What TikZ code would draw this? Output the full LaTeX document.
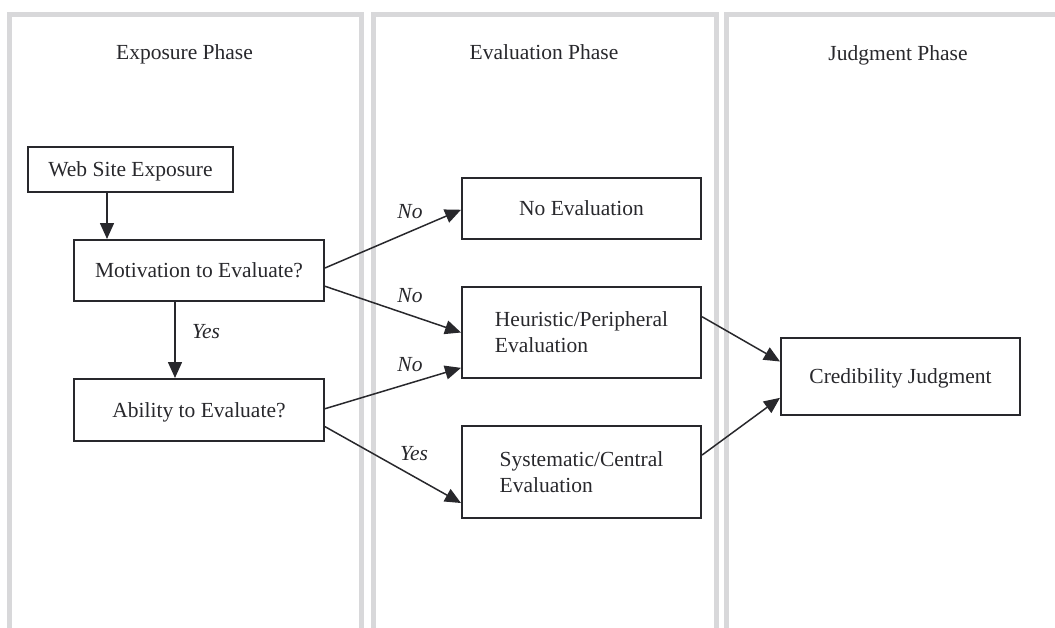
\documentclass[tikz,border=0pt]{standalone}
\usepackage{fontspec}
\setmainfont{Liberation Serif}
\usetikzlibrary{arrows.meta,calc}
\definecolor{panelgray}{RGB}{216,216,218}
\definecolor{ink}{RGB}{40,40,44}
\begin{document}
\begin{tikzpicture}[x=1pt,y=-1pt,
  every node/.style={font=\fontsize{21.5}{26}\selectfont, text=ink},
  panel/.style={draw=panelgray, line width=5pt},
  box/.style={draw=ink, line width=2pt, inner sep=0pt, align=left, text depth=0pt},
  arr/.style={draw=ink, line width=1.5pt, -{Triangle[length=16pt,width=14pt]}},
  lab/.style={font=\fontsize{21.5}{26}\selectfont\itshape, anchor=base}
]
\useasboundingbox (0,0) rectangle (1055,627);
% panels
\draw[panel] (9.5,640) -- (9.5,14) -- (361,14) -- (361,640);
\draw[panel] (373,640) -- (373,14) -- (716,14) -- (716,640);
\draw[panel] (726,640) -- (726,14) -- (1070,14);
% titles
\node[anchor=base] (t1) at (184.5,59) {Exposure Phase};
\node[anchor=base] (t2) at (544,59) {Evaluation Phase};
\node[anchor=base] (t3) at (898,60) {Judgment Phase};
% boxes
\node[box, minimum width=205pt, minimum height=45pt] (web) at (130.5,169.5) {Web Site Exposure};
\node[box, minimum width=250pt, minimum height=61pt] (mot) at (199,270.5) {Motivation to Evaluate?};
\node[box, minimum width=250pt, minimum height=62pt] (abil) at (199,410) {Ability to Evaluate?};
\node[box, minimum width=239pt, minimum height=61pt] (noev) at (581.5,208.5) {No Evaluation};
\node[box, minimum width=239pt, minimum height=91pt] (heur) at (581.5,332.5) {Heuristic/Peripheral\\Evaluation};
\node[box, minimum width=239pt, minimum height=92pt] (sys) at (581.5,472) {Systematic/Central\\Evaluation};
\node[box, minimum width=239pt, minimum height=77pt] (cred) at (900.5,376.5) {Credibility Judgment};
% vertical arrows
\draw[arr] (web.south -| 107,0) -- (mot.north -| 107,0);
\draw[arr] (mot.south -| 175,0) -- (abil.north -| 175,0);
% diagonal arrows
\draw[arr] ($(mot.north east)!0.46!(mot.south east)$) -- ($(noev.north west)!0.52!(noev.south west)$);
\draw[arr] ($(mot.north east)!0.75!(mot.south east)$) -- ($(heur.north west)!0.5!(heur.south west)$);
\draw[arr] ($(abil.north east)!0.48!(abil.south east)$) -- ($(heur.north west)!0.88!(heur.south west)$);
\draw[arr] ($(abil.north east)!0.76!(abil.south east)$) -- ($(sys.north west)!0.83!(sys.south west)$);
\draw[arr] ($(heur.north east)!0.33!(heur.south east)$) -- ($(cred.north west)!0.31!(cred.south west)$);
\draw[arr] ($(sys.north east)!0.32!(sys.south east)$) -- ($(cred.north west)!0.77!(cred.south west)$);
% labels
\node[lab] (l1) at (410,218) {No};
\node[lab] (l2) at (410,302) {No};
\node[lab] (l3) at (410,371) {No};
\node[lab] (l4) at (414,460) {Yes};
\node[lab] (l5) at (206,338) {Yes};
\end{tikzpicture}
\end{document}
